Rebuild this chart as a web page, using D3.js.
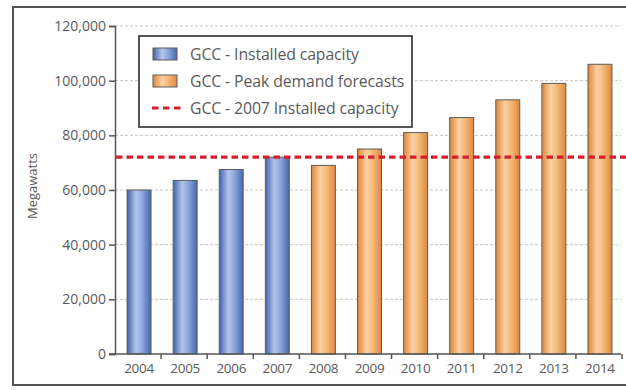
<!DOCTYPE html>
<html>
<head>
<meta charset="utf-8">
<script src="https://cdn.jsdelivr.net/npm/d3@7"></script>
<style>
  html, body { margin: 0; padding: 0; background: #fff; }
  svg { display: block; }
  text { font-family: "Open Sans", "DejaVu Sans", sans-serif; fill: #5a5a5a; }
</style>
</head>
<body>
<svg id="chart" width="626" height="390"></svg>
<script>
// GCC electricity: installed capacity vs. peak demand forecasts (MW)
const years = ["2004","2005","2006","2007","2008","2009","2010","2011","2012","2013","2014"];
const installed = [60000, 63500, 67500, 72000, null, null, null, null, null, null, null];
const forecast = [null, null, null, null, 69000, 75000, 81000, 86500, 93000, 99000, 106000];
const capacity2007 = 72000;
const yTicks = [0, 20000, 40000, 60000, 80000, 100000, 120000];
const legendLabels = ["GCC - Installed capacity", "GCC - Peak demand forecasts", "GCC - 2007 Installed capacity"];
const yTitle = "Megawatts";

const svg = d3.select("#chart");
const plot = { left: 115, right: 623, top: 26, bottom: 354 };

const y = d3.scaleLinear().domain([0, 120000]).range([plot.bottom, plot.top]);
const x = d3.scaleBand().domain(years).range([plot.left + 1, plot.right])
  .paddingInner(0.48).paddingOuter(0.24);
const xCat = d3.scaleBand().domain(years).range([plot.left + 1, plot.right]).padding(0);

// gradients for the cylindrical bar look
const defs = svg.append("defs");
function grad(id, stops) {
  const g = defs.append("linearGradient").attr("id", id)
    .attr("x1", "0%").attr("x2", "100%").attr("y1", "0%").attr("y2", "0%");
  stops.forEach(s => g.append("stop").attr("offset", s[0]).attr("stop-color", s[1]));
}
grad("gBlue", [["0%", "#4263a9"], ["38%", "#b4c5ec"], ["62%", "#8fa7dc"], ["100%", "#4668ae"]]);
grad("gOrange", [["0%", "#df8639"], ["38%", "#fbd2a4"], ["62%", "#f5ba7b"], ["100%", "#e08a3f"]]);

// outer frame
svg.append("rect").attr("x", 13).attr("y", 7).attr("width", 640).attr("height", 378)
  .attr("fill", "none").attr("stroke", "#555").attr("stroke-width", 2);

// horizontal gridlines
svg.append("g").selectAll("line").data(yTicks.filter(d => d > 0)).join("line")
  .attr("x1", plot.left).attr("x2", 621)
  .attr("y1", d => y(d)).attr("y2", d => y(d))
  .attr("stroke", "#c4c4c4").attr("stroke-width", 1).attr("stroke-dasharray", "3,2");

// y axis
const yAxis = svg.append("g").attr("transform", `translate(${plot.left},0)`)
  .call(d3.axisLeft(y).tickValues(yTicks).tickSize(6).tickPadding(3).tickFormat(d3.format(",")));
yAxis.select(".domain").attr("stroke", "#555").attr("stroke-width", 1.5);
yAxis.selectAll(".tick line").attr("stroke", "#555").attr("stroke-width", 1.5);
yAxis.selectAll(".tick text").attr("fill", "#5a5a5a").style("font-size", "14px")
  .style("font-family", "'Open Sans', sans-serif");

// y title
svg.append("text").attr("transform", "translate(37,186) rotate(-90)")
  .attr("text-anchor", "middle").style("font-size", "13px").text(yTitle);

// bars
const bars = svg.append("g");
bars.selectAll("rect.inst").data(years.map((yr, i) => ({ yr, v: installed[i] })).filter(d => d.v != null))
  .join("rect").attr("class", "inst")
  .attr("x", d => x(d.yr)).attr("width", x.bandwidth())
  .attr("y", d => y(d.v)).attr("height", d => y(0) - y(d.v))
  .attr("fill", "url(#gBlue)").attr("stroke", "#5d5d5d").attr("stroke-width", 1);
bars.selectAll("rect.fc").data(years.map((yr, i) => ({ yr, v: forecast[i] })).filter(d => d.v != null))
  .join("rect").attr("class", "fc")
  .attr("x", d => x(d.yr)).attr("width", x.bandwidth())
  .attr("y", d => y(d.v)).attr("height", d => y(0) - y(d.v))
  .attr("fill", "url(#gOrange)").attr("stroke", "#5d5d5d").attr("stroke-width", 1);

// x axis: category labels with separator ticks at band edges
const xAxis = svg.append("g").attr("transform", `translate(0,${plot.bottom})`)
  .call(d3.axisBottom(x).tickSize(0).tickPadding(9));
xAxis.select(".domain").remove();
xAxis.selectAll(".tick text").attr("fill", "#5a5a5a").style("font-size", "13.5px")
  .attr("letter-spacing", "-0.3");
svg.append("line").attr("x1", plot.left - 6).attr("x2", plot.right - 2)
  .attr("y1", plot.bottom).attr("y2", plot.bottom).attr("stroke", "#555").attr("stroke-width", 1.5);
const edges = years.map(d => xCat(d) + xCat.bandwidth());
svg.append("g").selectAll("line").data(edges).join("line")
  .attr("x1", d => d - 1).attr("x2", d => d - 1)
  .attr("y1", plot.bottom).attr("y2", plot.bottom + 5)
  .attr("stroke", "#555").attr("stroke-width", 1.5);

// 2007 installed capacity reference line
svg.append("line").attr("x1", plot.left + 1).attr("x2", 626)
  .attr("y1", y(capacity2007)).attr("y2", y(capacity2007))
  .attr("stroke", "#d31f2b").attr("stroke-width", 3.2).attr("stroke-dasharray", "6.5,4");

// legend
const lg = svg.append("g").attr("transform", "translate(139,36)");
lg.append("rect").attr("width", 273).attr("height", 91).attr("fill", "#fff")
  .attr("stroke", "#444").attr("stroke-width", 1.8);
const rows = [18, 45, 72];
lg.append("rect").attr("x", 14).attr("y", rows[0] - 6).attr("width", 24).attr("height", 12)
  .attr("fill", "url(#gBlue)").attr("stroke", "#5d5d5d");
lg.append("rect").attr("x", 14).attr("y", rows[1] - 6).attr("width", 24).attr("height", 12)
  .attr("fill", "url(#gOrange)").attr("stroke", "#5d5d5d");
lg.append("line").attr("x1", 13).attr("x2", 42).attr("y1", rows[2]).attr("y2", rows[2])
  .attr("stroke", "#d31f2b").attr("stroke-width", 3.2).attr("stroke-dasharray", "6.5,4.5");
lg.selectAll("text").data(legendLabels).join("text")
  .attr("x", 51).attr("y", (d, i) => rows[i]).attr("dy", "0.35em")
  .style("font-size", "15.8px").attr("letter-spacing", "-0.1").text(d => d);
</script>
</body>
</html>
